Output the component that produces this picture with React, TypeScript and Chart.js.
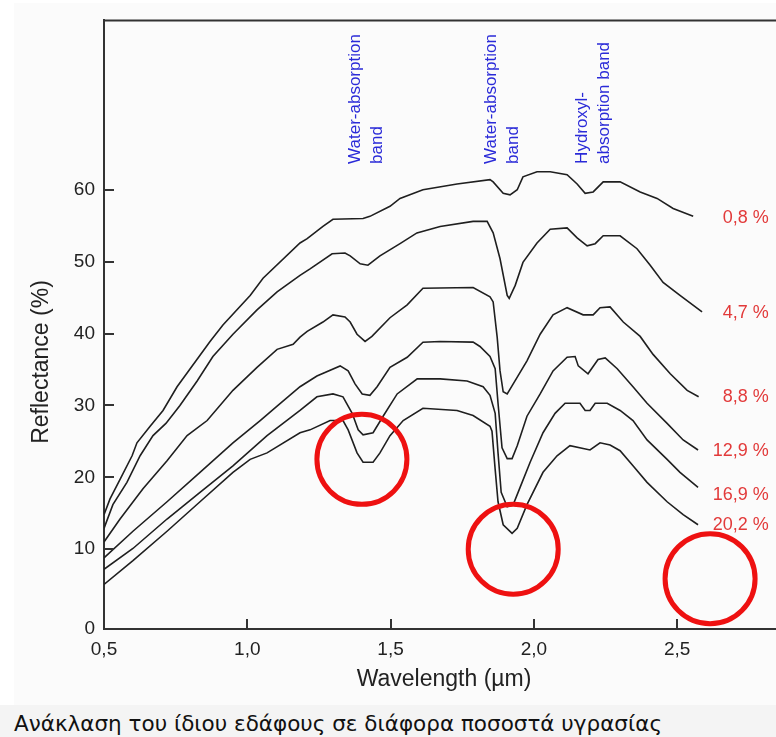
import React, { useEffect, useRef } from 'react';
import { Chart, registerables } from 'chart.js';

Chart.register(...registerables);

// ---- Data (wavelength in µm, reflectance in %) ----
const wl08 = [0.500,0.521,0.556,0.598,0.615,0.661,0.706,0.755,0.870,0.915,1.010,1.055,1.184,1.209,1.264,1.299,1.404,1.428,1.498,1.533,1.613,1.732,1.847,1.858,1.893,1.917,1.942,1.962,2.011,2.057,2.116,2.151,2.179,2.207,2.242,2.301,2.371,2.430,2.486,2.556];
const r08 = [14.8,17.0,19.7,23.0,24.8,27.1,29.3,32.6,38.9,41.2,45.3,47.7,52.6,53.2,54.9,55.9,56.0,56.3,57.7,58.8,60.0,60.8,61.4,61.1,59.5,59.3,60.0,61.8,62.5,62.5,62.1,60.8,59.5,59.7,61.1,61.1,59.7,58.8,57.4,56.3];

const wl47 = [0.500,0.531,0.580,0.626,0.671,0.716,0.765,0.825,0.880,0.950,1.034,1.104,1.184,1.219,1.296,1.341,1.359,1.394,1.421,1.463,1.533,1.592,1.673,1.788,1.837,1.858,1.882,1.907,1.914,1.935,1.962,2.011,2.057,2.116,2.151,2.186,2.214,2.242,2.301,2.360,2.406,2.451,2.510,2.587];
const r47 = [12.9,16.2,19.3,23.0,25.8,27.5,30.0,33.4,36.8,39.9,43.3,45.8,48.1,49.0,51.1,51.2,50.8,49.7,49.5,50.8,52.5,54.0,54.9,55.6,55.6,54.0,50.4,45.3,44.9,46.7,49.9,52.6,54.5,54.7,53.3,52.2,52.5,53.6,53.6,51.8,49.5,47.1,45.3,43.0];

const wl88 = [0.500,0.556,0.636,0.720,0.790,0.860,0.950,1.034,1.104,1.160,1.184,1.209,1.264,1.299,1.341,1.359,1.383,1.411,1.435,1.498,1.558,1.613,1.788,1.847,1.858,1.872,1.882,1.893,1.907,1.928,1.976,2.022,2.067,2.116,2.172,2.207,2.231,2.266,2.312,2.371,2.416,2.476,2.535,2.575];
const r88 = [11.0,14.2,18.4,22.3,25.8,27.9,32.1,35.3,37.8,38.5,39.5,40.3,41.6,42.6,42.3,41.6,39.9,38.9,39.6,42.2,44.0,46.3,46.4,45.1,44.4,39.5,34.8,31.9,31.6,33.0,36.2,39.9,42.6,43.6,42.6,42.6,43.6,43.7,41.6,39.6,37.1,34.4,32.1,31.2];

const wl129 = [0.500,0.601,0.720,0.835,0.950,1.045,1.104,1.184,1.243,1.324,1.352,1.376,1.401,1.428,1.453,1.498,1.558,1.613,1.673,1.788,1.812,1.847,1.865,1.875,1.889,1.907,1.924,1.942,1.976,2.022,2.067,2.116,2.144,2.155,2.189,2.224,2.249,2.291,2.346,2.395,2.465,2.521,2.573];
const r129 = [8.8,12.5,16.6,20.7,24.8,27.9,29.9,32.6,34.1,35.5,34.8,33.0,31.6,31.4,32.6,35.3,36.7,38.8,38.9,38.8,38.2,36.8,35.1,30.3,24.1,22.6,22.6,24.4,28.5,31.6,34.8,36.7,36.8,35.5,34.4,36.4,36.6,35.1,32.6,30.3,27.5,25.2,23.8];

const wl169 = [0.500,0.601,0.720,0.835,0.950,1.069,1.184,1.243,1.299,1.334,1.366,1.387,1.404,1.439,1.474,1.523,1.593,1.673,1.767,1.823,1.847,1.865,1.875,1.886,1.907,1.928,1.952,1.987,2.032,2.074,2.109,2.161,2.179,2.196,2.214,2.256,2.301,2.346,2.395,2.465,2.510,2.573];
const r169 = [7.2,10.1,14.2,17.9,21.6,25.8,29.3,31.2,31.6,31.2,28.9,26.6,25.9,26.2,28.5,31.6,33.7,33.7,33.4,32.6,31.4,28.9,23.4,17.9,15.9,16.2,18.6,22.1,26.2,28.9,30.3,30.3,29.3,29.3,30.3,30.3,29.3,27.9,25.2,22.5,20.7,18.6];

const wl202 = [0.500,0.601,0.720,0.835,0.950,1.010,1.069,1.184,1.219,1.289,1.334,1.352,1.383,1.404,1.439,1.463,1.498,1.544,1.613,1.732,1.788,1.847,1.854,1.865,1.875,1.893,1.924,1.942,1.976,2.032,2.081,2.126,2.196,2.231,2.266,2.301,2.346,2.395,2.465,2.521,2.573];
const r202 = [5.1,8.4,12.5,16.6,20.7,22.5,23.4,26.2,26.6,27.9,27.9,26.6,23.4,22.1,22.1,23.4,25.8,27.9,29.6,29.3,28.6,27.1,26.4,21.1,16.6,13.4,12.2,12.9,16.2,20.7,23.0,24.4,23.8,24.8,24.5,23.7,21.6,19.3,16.6,14.8,13.4];

const seriesWl = [wl08, wl47, wl88, wl129, wl169, wl202];
const seriesR = [r08, r47, r88, r129, r169, r202];

const moistureLabels = ['0,8 %', '4,7 %', '8,8 %', '12,9 %', '16,9 %', '20,2 %'];
const moistureLabelY = [56.0, 42.9, 31.2, 23.7, 17.5, 13.4];
const moistureLabelX = 2.82;

const bandLabels = [['Water-absorption', 'band'], ['Water-absorption', 'band'], ['Hydroxyl-', 'absorption band']];
const bandX = [1.414, 1.891, 2.207];
const bandBaseY = 63.6;

const circleX = [1.400, 1.928, 2.615];
const circleY = [22.5, 10.0, 5.9];

const xTicks = [0.5, 1.0, 1.5, 2.0, 2.5];
const yTicks = [0, 10, 20, 30, 40, 50, 60];

const X_MIN = 0.5;
const X_MAX = 2.845;
const Y_MIN = -1.1;
const Y_MAX = 83.56;

const FONT = "'Liberation Sans', Arial, sans-serif";

const decorPlugin = {
  id: 'decor',
  beforeDraw(chart: any) {
    const { ctx, width, height } = chart;
    ctx.save();
    ctx.fillStyle = '#ffffff';
    ctx.fillRect(0, 0, width, height);
    ctx.fillStyle = '#fbfbfb';
    ctx.fillRect(14, 3, width - 14, height - 3);
    ctx.restore();
  },
  afterDraw(chart: any) {
    const { ctx, chartArea: a, scales } = chart;
    const xs = scales.x;
    const ys = scales.y;
    ctx.save();
    // top frame
    ctx.strokeStyle = '#333';
    ctx.lineWidth = 2;
    ctx.beginPath();
    ctx.moveTo(a.left - 1, a.top);
    ctx.lineTo(a.right, a.top);
    ctx.stroke();
    // inward ticks
    ctx.beginPath();
    xTicks.forEach((v, i) => {
      if (i === 0) return;
      const px = Math.round(xs.getPixelForValue(v));
      ctx.moveTo(px, a.bottom);
      ctx.lineTo(px, a.bottom - 10);
    });
    yTicks.forEach((v) => {
      if (v === 0) return;
      const py = Math.round(ys.getPixelForValue(v));
      ctx.moveTo(a.left, py);
      ctx.lineTo(a.left + 10, py);
    });
    ctx.stroke();

    // axis titles
    ctx.fillStyle = '#222';
    ctx.font = `23px ${FONT}`;
    ctx.textAlign = 'center';
    ctx.textBaseline = 'middle';
    ctx.fillText('Wavelength (µm)', 444, 680);
    ctx.save();
    ctx.translate(42, 362);
    ctx.rotate(-Math.PI / 2);
    ctx.fillText('Reflectance (%)', 0, 0);
    ctx.restore();

    // band annotations (rotated, blue)
    ctx.fillStyle = '#2a2ad8';
    ctx.font = `17px ${FONT}`;
    ctx.textAlign = 'left';
    ctx.textBaseline = 'middle';
    const by = ys.getPixelForValue(bandBaseY);
    bandLabels.forEach((lines, i) => {
      const cx = xs.getPixelForValue(bandX[i]);
      lines.forEach((txt, j) => {
        ctx.save();
        ctx.translate(cx - 11 + j * 22, by);
        ctx.rotate(-Math.PI / 2);
        ctx.fillText(txt, 0, 0);
        ctx.restore();
      });
    });

    // moisture labels (red)
    ctx.fillStyle = '#e23a3a';
    ctx.font = `18px ${FONT}`;
    ctx.textAlign = 'right';
    ctx.textBaseline = 'middle';
    moistureLabels.forEach((t, i) => {
      ctx.fillText(t, xs.getPixelForValue(moistureLabelX), ys.getPixelForValue(moistureLabelY[i]));
    });
    ctx.restore();
  },
};

export default function App() {
  const canvasRef = useRef<HTMLCanvasElement | null>(null);

  useEffect(() => {
    const canvas = canvasRef.current;
    if (!canvas) return;

    const lineSets = seriesWl.map((wl, i) => ({
      type: 'line' as const,
      label: moistureLabels[i],
      data: wl.map((x, k) => ({ x, y: seriesR[i][k] })),
      borderColor: '#1f1f1f',
      borderWidth: 1.6,
      pointRadius: 0,
      tension: 0,
      fill: false,
      order: 2,
    }));

    const circleSet = {
      type: 'line' as const,
      label: 'circles',
      data: circleX.map((x, k) => ({ x, y: circleY[k] })),
      showLine: false,
      pointRadius: 45,
      pointBorderWidth: 5,
      pointBorderColor: '#ee1111',
      pointBackgroundColor: 'rgba(0,0,0,0)',
      borderColor: '#ee1111',
      clip: false as any,
      order: 1,
    };

    const chart = new Chart(canvas, {
      type: 'line',
      data: { datasets: [...lineSets, circleSet] as any },
      options: {
        responsive: false,
        animation: false,
        layout: { autoPadding: false, padding: { top: 11, right: 0, left: 0, bottom: 0 } },
        plugins: { legend: { display: false }, tooltip: { enabled: false } },
        scales: {
          x: {
            type: 'linear',
            min: X_MIN,
            max: X_MAX,
            grid: { display: false, drawTicks: false },
            border: { display: true, color: '#333', width: 2 },
            afterBuildTicks: (s: any) => {
              s.ticks = xTicks.map((v) => ({ value: v }));
            },
            afterFit: (s: any) => {
              s.height = 76;
            },
            ticks: {
              autoSkip: false,
              maxRotation: 0,
              padding: 9,
              color: '#222',
              font: { family: FONT, size: 19 },
              callback: (v: any) => Number(v).toFixed(1).replace('.', ','),
            },
          },
          y: {
            type: 'linear',
            min: Y_MIN,
            max: Y_MAX,
            grid: { display: false, drawTicks: false },
            border: { display: true, color: '#333', width: 2 },
            afterBuildTicks: (s: any) => {
              s.ticks = yTicks.map((v) => ({ value: v === 0 ? Y_MIN : v }));
            },
            afterFit: (s: any) => {
              s.width = 104;
            },
            ticks: {
              autoSkip: false,
              padding: 9,
              color: '#222',
              font: { family: FONT, size: 19 },
              callback: (v: any) => (Number(v) < 0 ? '0' : String(v)),
            },
          },
        },
      },
      plugins: [decorPlugin],
    });

    return () => chart.destroy();
  }, []);

  return (
    <div style={{ position: 'absolute', left: 0, top: 0, width: 776, height: 737, background: '#fff' }}>
      <canvas ref={canvasRef} width={776} height={705} style={{ display: 'block', width: 776, height: 705 }} />
      <div
        style={{
          position: 'absolute',
          left: 0,
          top: 705,
          width: 776,
          height: 32,
          boxSizing: 'border-box',
          paddingLeft: 14,
          paddingTop: 3,
          background: '#f4f4f4',
          fontFamily: "'DejaVu Sans', sans-serif",
          fontSize: 21.5,
          lineHeight: '32px',
          color: '#111',
          whiteSpace: 'nowrap',
          overflow: 'hidden',
        }}
      >
        Ανάκλαση του ίδιου εδάφους σε διάφορα ποσοστά υγρασίας
      </div>
    </div>
  );
}
